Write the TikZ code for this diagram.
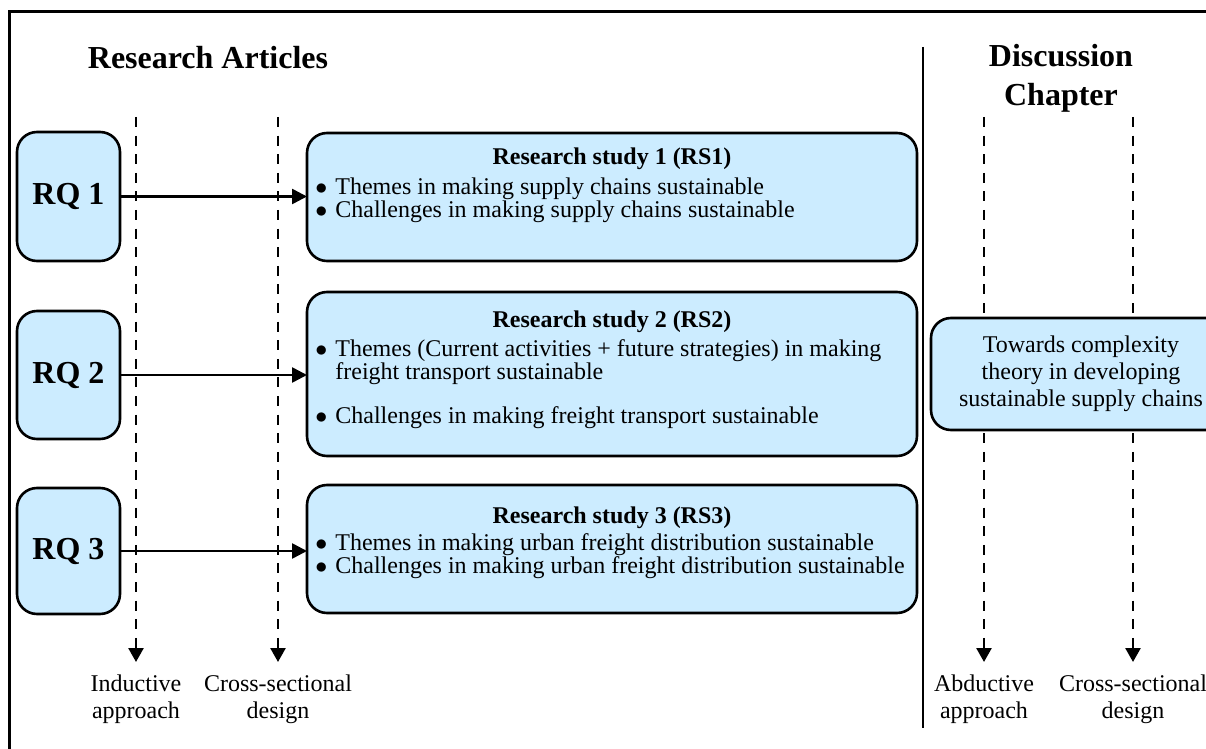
\documentclass[tikz,border=0pt]{standalone}
\usepackage{fontspec}
\setmainfont{Liberation Serif}
\usepackage{tikz}
\usetikzlibrary{arrows.meta,positioning}
\definecolor{qblue}{RGB}{204,236,255}
\newcommand{\rsbullet}{\makebox[10pt][l]{$\bullet$}}
\newcommand{\rsindent}{\hphantom{\rsbullet}}
\tikzset{
qbox/.style={draw, fill=qblue, line width=1.3pt, rounded corners=10pt, inner sep=0pt, outer sep=0pt},
head/.style={font=\fontsize{16}{19.5}\selectfont\bfseries, inner sep=0pt},
body/.style={font=\fontsize{12}{13.5}\selectfont, inner sep=0pt},
link/.style={line width=1.3pt, -{Triangle[length=7.5pt,width=7.5pt]}},
guide/.style={line width=1.3pt, dash pattern=on 5pt off 4.3pt, -{Triangle[length=7pt,width=7.5pt]}},
}
\begin{document}
\begin{tikzpicture}[x=0.5pt,y=0.5pt,yscale=-1]
\useasboundingbox (0,0) rectangle (1206,749);
\clip (0,0) rectangle (1206,749);
%Frame and separator
\draw[line width=1.5pt] (9,12) rectangle (1240,780);
\draw[line width=1pt] (923,47) -- (923,728);
%Headings
\node[head, anchor=base] (art) at (208,69) {Research Articles};
\node[head, anchor=north, align=center] (disc) at (1061,44) {Discussion\\Chapter};
%Guide labels
\node[body, anchor=north, align=center] (ind) at (136,674) {Inductive\\approach};
\node[body, anchor=north, align=center] (cs1) at (278,674) {Cross-sectional\\design};
\node[body, anchor=north, align=center] (abd) at (984,674) {Abductive\\approach};
\node[body, anchor=north, align=center] (cs2) at (1133,674) {Cross-sectional\\design};
%Dashed guides
\coordinate (g1) at (136,117);
\coordinate (g2) at (278,117);
\coordinate (g3) at (984,117);
\coordinate (g4) at (1133,117);
\draw[guide] (g1) -- ([yshift=-6pt]ind.north);
\draw[guide] (g2) -- ([yshift=-6pt]cs1.north);
\draw[guide] (g3) -- ([yshift=-6pt]abd.north);
\draw[guide] (g4) -- ([yshift=-6pt]cs2.north);
%Research questions
\node[qbox, head, minimum width=51.5pt, minimum height=64.5pt] (rq1) at (68.5,196.5) {RQ 1};
\node[qbox, head, minimum width=51.5pt, minimum height=64pt] (rq2) at (68.5,375) {RQ 2};
\node[qbox, head, minimum width=51.5pt, minimum height=63pt] (rq3) at (68.5,551) {RQ 3};
%Research studies
\node[qbox, minimum width=305pt, minimum height=64pt] (rs1) at (612,197) {};
\node[qbox, minimum width=305pt, minimum height=82pt] (rs2) at (612,374) {};
\node[qbox, minimum width=305pt, minimum height=64pt] (rs3) at (612,549) {};
\node[body, font=\fontsize{12}{13.5}\selectfont\bfseries, anchor=base] (rs1h) at (612,165) {Research study 1 (RS1)};
\node[body, font=\fontsize{12}{13.5}\selectfont\bfseries, anchor=base] (rs2h) at (612,328) {Research study 2 (RS2)};
\node[body, font=\fontsize{12}{13.5}\selectfont\bfseries, anchor=base] (rs3h) at (612,523) {Research study 3 (RS3)};
\node[body, font=\fontsize{12}{11.5}\selectfont, anchor=north west, align=left] (rs1b) at (315,177.5)
  {\rsbullet Themes in making supply chains sustainable\\
   \rsbullet Challenges in making supply chains sustainable};
\node[body, font=\fontsize{12}{11.5}\selectfont, anchor=north west, align=left] (rs2b) at (315,339.5)
  {\rsbullet Themes (Current activities + future strategies) in making\\
   \rsindent freight transport sustainable\\[10.5pt]
   \rsbullet Challenges in making freight transport sustainable};
\node[body, font=\fontsize{12}{11.5}\selectfont, anchor=north west, align=left] (rs3b) at (315,533)
  {\rsbullet Themes in making urban freight distribution sustainable\\
   \rsbullet Challenges in making urban freight distribution sustainable};
%Discussion
\node[qbox, body, minimum width=150pt, minimum height=56pt, align=center] (tow) at (1081,374)
  {Towards complexity\\theory in developing\\sustainable supply chains};
%Arrows
\draw[link] (rq1.east) -- (rq1.east -| rs1.west);
\draw[link] (rq2.east) -- (rq2.east -| rs2.west);
\draw[link] (rq3.east) -- (rq3.east -| rs3.west);
\end{tikzpicture}
\end{document}
